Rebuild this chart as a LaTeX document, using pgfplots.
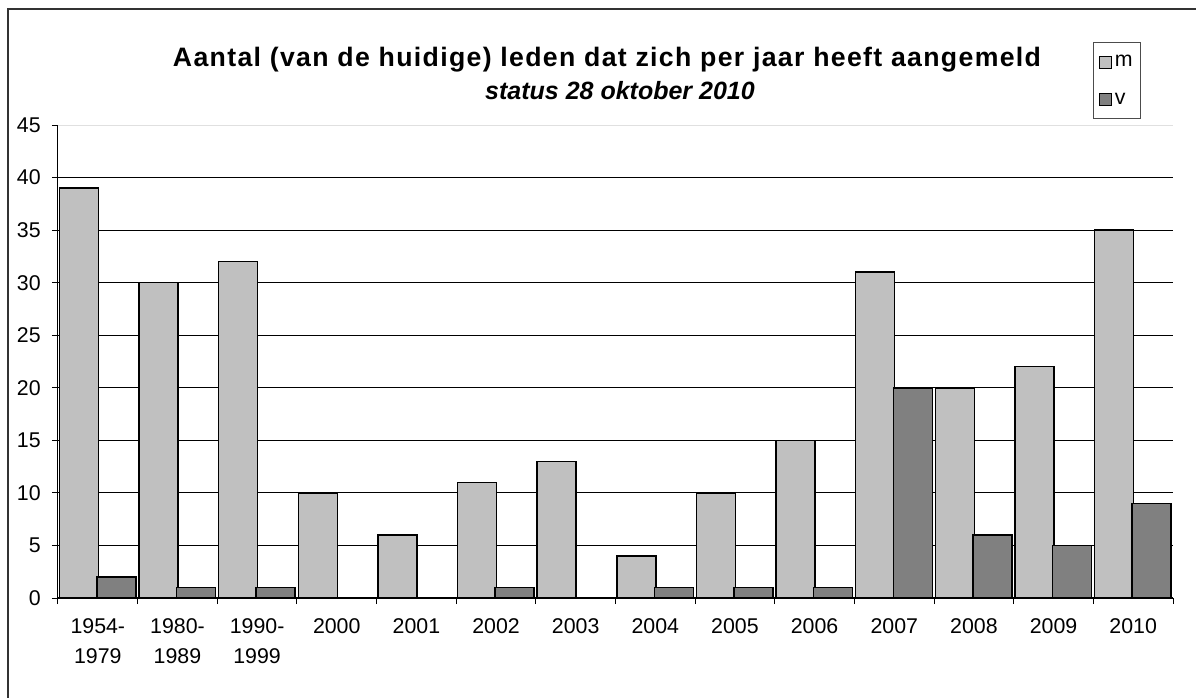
\documentclass[border=0pt]{standalone}
\usepackage{fontspec}
\setmainfont{Liberation Sans}
\newfontfamily\tickfont{Liberation Sans}
\newfontfamily\titlefont{Liberation Sans}[LetterSpace=5]
\usepackage{pgfplots}
\pgfplotsset{compat=1.18}
\definecolor{lightbar}{HTML}{C0C0C0}
\definecolor{darkbar}{HTML}{808080}
\pgfplotsset{mylegend/.style={legend image code/.code={\draw[##1, draw=black, line width=0.8pt] (0pt,-4.5pt) rectangle (9.5pt,4.5pt);}}}
\begin{document}
\begin{tikzpicture}
\useasboundingbox (-43.5pt,-74.25pt) rectangle (853.5pt,448.5pt);
\begin{axis}[at={(0,0)}, anchor=south west, scale only axis,
  width=836.25pt, height=354.75pt,
  xmin=-0.5, xmax=13.5, ymin=0, ymax=45,
  ybar, bar width=29.25pt,
  axis x line*=bottom, axis y line*=left,
  x axis line style={line width=1.1pt},
  y axis line style={line width=0.75pt},
  tick align=outside, major tick length=4.5pt,
  every tick/.style={black, line width=0.75pt},
  xtick={-0.5,0.5,...,13.5},
  x tick label as interval,
  xticklabels={{1954-\\1979},{1980-\\1989},{1990-\\1999},2000,2001,2002,2003,2004,2005,2006,2007,2008,2009,2010},
  xticklabel style={align=center, font=\tickfont\fontsize{16}{22.5}\selectfont, anchor=north, yshift=-7.5pt},
  ytick={0,5,...,40},
  extra y ticks={45},
  extra y tick style={grid style={draw=black!12, line width=0.75pt}},
  yticklabel style={font=\tickfont\fontsize{16}{18}\selectfont, xshift=-5pt},
  /pgf/number format/assume math mode=true,
  ymajorgrids, grid style={draw=black, line width=0.75pt},
  legend style={at={(axis description cs:0.928,1.175)}, anchor=north west,
    draw=black!70, line width=0.75pt, font=\tickfont\fontsize{16}{18}\selectfont,
    row sep=14pt, inner xsep=4pt, inner ysep=7.5pt, cells={anchor=west}},
  legend cell align=left,
]
\addplot[fill=lightbar, draw=black, line width=1.1pt, bar shift=-14.25pt, mylegend] coordinates {
 (0,39) (1,30) (2,32) (3,10) (4,6) (5,11) (6,13) (7,4) (8,10) (9,15) (10,31) (11,20) (12,22) (13,35)};
\addplot[fill=darkbar, draw=black, line width=1.1pt, bar shift=13.9pt, mylegend] coordinates {
 (0,2) (1,1) (2,1) (5,1) (7,1) (8,1) (9,1) (10,20) (11,6) (12,5) (13,9)};
\legend{m,v}
\end{axis}
\node[font=\titlefont\bfseries\fontsize{20}{24}\selectfont, anchor=base] at (411.75pt,398.25pt) {Aantal (van de huidige) leden dat zich per jaar heeft aangemeld};
\node[font=\bfseries\itshape\fontsize{18.75}{22}\selectfont, anchor=base] at (421.5pt,373.5pt) {status 28 oktober 2010};
\draw[line width=1.2pt, black!80] (-37.5pt,-80pt) -- (-37.5pt,441.75pt) -- (860pt,441.75pt);
\end{tikzpicture}
\end{document}
